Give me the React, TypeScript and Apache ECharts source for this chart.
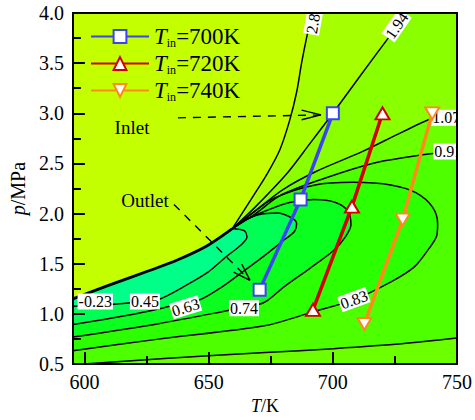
import React, { useEffect, useRef } from "react";
import * as echarts from "echarts";

const FONT = "Liberation Serif";

// axis ranges and ticks
const xRange = [595.3, 750];
const yRange = [0.5, 4.0];
const xMajorTicks = [600, 650, 700, 750];
const xMinorTicks = [625, 675, 725];
const yInterval = 0.5;

// operating lines (T/K, p/MPa)
const legendNames = ["Tin=700K", "Tin=720K", "Tin=740K"];
const line700 = [[700.0, 3.0], [687.0, 2.14], [670.5, 1.24]];
const line720 = [[720.0, 3.0], [707.7, 2.07], [692.0, 1.04]];
const line740 = [[740.0, 3.0], [728.1, 1.94], [712.7, 0.9]];

// contour lines (T/K, p/MPa)
const ridge = [[595.3, 1.15], [610.2, 1.29], [625.9, 1.43], [637.6, 1.54], [649.4, 1.68], [659.5, 1.85]];
const c280 = [[659.5, 1.85], [667.0, 2.14], [673.6, 2.4], [678.7, 2.64], [682.6, 2.93], [685.4, 3.21], [687.4, 3.5], [689.3, 3.74], [691.7, 4.0]];
const c194 = [[659.5, 1.85], [668.9, 2.07], [681.5, 2.4], [690.5, 2.69], [700.0, 3.0], [711.2, 3.38], [722.6, 3.76], [726.9, 3.9], [729.7, 4.0]];
const c107 = [[659.5, 1.85], [668.9, 2.03], [679.9, 2.24], [693.2, 2.42], [712.0, 2.62], [727.7, 2.81], [740.2, 2.95], [750.0, 2.99]];
const c091u = [[659.5, 1.85], [668.9, 2.0], [678.7, 2.18], [696.4, 2.35], [715.9, 2.5], [731.6, 2.57], [740.2, 2.6], [750.0, 2.62]];
const c091l = [[599.6, 0.5], [633.7, 0.558], [672.9, 0.615], [700.3, 0.654], [727.7, 0.702], [750.0, 0.759]];
const c083 = [[595.3, 0.634], [629.8, 0.749], [672.9, 0.884], [691.7, 1.018], [708.5, 1.143], [723.8, 1.325], [732.8, 1.469], [738.7, 1.651], [741.8, 1.777], [742.2, 1.9], [740.2, 2.063], [733.6, 2.207], [723.8, 2.284], [708.1, 2.312], [692.4, 2.284], [676.8, 2.159], [667.0, 1.996], [659.5, 1.85]];
const c074 = [[595.3, 0.769], [629.8, 0.903], [658.4, 1.037], [670.1, 1.095], [673.6, 1.133], [680.7, 1.277], [690.5, 1.45], [700.3, 1.632], [705.0, 1.766], [707.3, 1.891], [706.1, 2.025], [701.1, 2.111], [692.4, 2.14], [682.6, 2.111], [673.6, 2.034], [665.0, 1.939], [659.5, 1.85]];
const c063 = [[595.3, 0.894], [618.0, 0.989], [634.5, 1.076], [646.6, 1.143], [655.2, 1.267], [664.2, 1.43], [672.1, 1.574], [679.9, 1.728], [684.6, 1.825], [685.4, 1.9], [683.4, 1.958], [677.6, 2.006], [669.7, 1.987], [664.2, 1.929], [659.5, 1.85]];
const c045 = [[595.3, 1.076], [610.2, 1.095], [623.9, 1.124], [630.6, 1.152], [639.6, 1.267], [649.4, 1.411], [657.2, 1.574], [663.1, 1.689], [665.4, 1.766], [664.6, 1.825], [662.3, 1.843], [659.5, 1.85]];

// contour labels
const labelTexts = ["-0.23", "0.45", "0.63", "0.74", "0.83", "0.91", "1.07", "1.94", "2.8"];
const labelAt = [[604.3, 1.124], [624.3, 1.124], [640.7, 1.066], [664.2, 1.057], [708.5, 1.143], [746.5, 2.619], [745.7, 2.955], [725.7, 3.875], [692.0, 3.894]];
const labelAngle = [0, 0, 17, 0, 20, 0, 0, 55, 80];

// annotation arrows
const inletShaft = [[637.6, 2.955], [695.2, 2.984]];
const inletHead = [[687.4, 3.032], [695.2, 2.984], [687.4, 2.936]];
const outletShaft = [[636.0, 2.092], [666.6, 1.335]];
const outletHead = [[660.0, 1.417], [666.6, 1.335], [663.3, 1.498]];

const zoneColors = ["#c4ff00", "#a6ff00", "#8aff00", "#6cff00", "#4eff00", "#2cff00", "#0aff1e", "#00ff55", "#00ff88"];

export default function App() {
  const ref = useRef<HTMLDivElement>(null);
  useEffect(() => {
    if (!ref.current) return;
    const chart = echarts.init(ref.current, null, { renderer: "svg" });
    const [X0, X1] = xRange;
    const [Y0, Y1] = yRange;
    const ridgeRev = [...ridge].reverse();
    const zones = [
      [[X0, Y0], [X1, Y0], [X1, Y1], [X0, Y1]],
      [...c280, [X1, Y1], [X1, Y0], [X0, Y0], ...ridge],
      [...c194, [X1, Y1], [X1, Y0], [X0, Y0], ...ridge],
      [...c107, [X1, Y0], [X0, Y0], ...ridge],
      [...c091u, ...[...c091l].reverse(), [X0, Y0], ...ridge],
      [...c083, ...ridgeRev],
      [...c074, ...ridgeRev],
      [...c063, ...ridgeRev],
      [...c045, ...ridgeRev],
    ];
    const contourLines = [c280, c194, c107, c091u, c091l, c083, c074, c063, c045];
    const colors = ["#3a44f2", "#d40000", "#ff8a1a"];
    const datas = [line700, line720, line740];
    const symbols = ["rect", "triangle", "triangle"];
    const symSizes: any[] = [12, [14, 12], [14, 12]];
    const symRot = [0, 0, 180];

    const series: any[] = [
      {
        type: "custom",
        coordinateSystem: "cartesian2d",
        data: [[650, 2]],
        clip: true,
        silent: true,
        z: 1,
        renderItem: (params: any, api: any) => ({
          type: "group",
          children: zones.map((pts, i) => ({
            type: "polygon",
            shape: { points: pts.map((p) => api.coord(p)) },
            style: { fill: zoneColors[i], stroke: zoneColors[i], lineWidth: 0.5 },
          })),
        }),
      },
      {
        type: "line",
        data: ridge,
        symbol: "none",
        silent: true,
        z: 2,
        smooth: 0.3,
        lineStyle: { color: "#000", width: 2.8 },
      },
      ...contourLines.map((d) => ({
        type: "line",
        data: d,
        symbol: "none",
        silent: true,
        z: 2,
        smooth: 0.3,
        lineStyle: { color: "#000", width: 1.5 },
      })),
      {
        type: "custom",
        coordinateSystem: "cartesian2d",
        data: [[650, 2]],
        clip: true,
        silent: true,
        z: 3,
        renderItem: (params: any, api: any) => ({
          type: "group",
          children: labelTexts.map((t, i) => {
            const p = api.coord(labelAt[i]);
            return {
              type: "text",
              x: p[0],
              y: p[1],
              rotation: (labelAngle[i] * Math.PI) / 180,
              style: {
                text: t,
                x: 0,
                y: 0,
                align: "center",
                verticalAlign: "middle",
                fontSize: 16,
                fontFamily: FONT,
                fill: "#000",
                backgroundColor: "#fff",
                padding: [0, 1, 0, 1],
              },
            };
          }),
        }),
      },
      ...[inletShaft, outletShaft].map((d) => ({
        type: "line",
        data: d,
        symbol: "none",
        silent: true,
        z: 4,
        lineStyle: { color: "#000", width: 1.4, type: [8, 7] },
      })),
      ...[inletHead, outletHead].map((d) => ({
        type: "line",
        data: d,
        symbol: "none",
        silent: true,
        z: 4,
        lineStyle: { color: "#000", width: 1.4 },
      })),
      ...datas.map((d, i) => ({
        name: legendNames[i],
        type: "line",
        data: d,
        z: 5,
        symbol: symbols[i],
        symbolSize: symSizes[i],
        symbolRotate: symRot[i],
        showAllSymbol: true,
        color: colors[i],
        lineStyle: { color: colors[i], width: 3.5 },
        itemStyle: { color: "#fff", borderColor: colors[i], borderWidth: 2 },
      })),
    ];

    const axisLine = { show: true, lineStyle: { color: "#000", width: 2 } };
    chart.setOption({
      animation: false,
      grid: { left: 62, top: 13, right: 18, bottom: 42, containLabel: false },
      legend: {
        show: true,
        orient: "vertical",
        left: 90,
        top: 25,
        padding: 0,
        itemWidth: 58,
        itemHeight: 16,
        itemGap: 3,
        selectedMode: false,
        data: legendNames,
        formatter: (name: string) => `{t|T}{s|in}{n|${name.slice(3)}}`,
        textStyle: {
          fontFamily: FONT,
          fontSize: 23,
          color: "#000",
          padding: [0, 0, 0, 0],
          rich: {
            t: { fontFamily: FONT, fontSize: 23, fontStyle: "italic", color: "#000" },
            s: { fontFamily: FONT, fontSize: 12, color: "#000", padding: [13, 0, 0, 0] },
            n: { fontFamily: FONT, fontSize: 23, color: "#000" },
          },
        },
      },
      xAxis: [
        {
          type: "value",
          min: X0,
          max: X1,
          position: "bottom",
          z: 10,
          axisLine,
          splitLine: { show: false },
          axisTick: { show: true, inside: true, length: 12, customValues: xMajorTicks, lineStyle: { color: "#000", width: 2 } },
          axisLabel: { customValues: xMajorTicks, fontSize: 20, fontFamily: FONT, color: "#000", margin: 8 },
          name: "{i|T}/K",
          nameLocation: "middle",
          nameGap: 27,
          nameTextStyle: {
            fontSize: 18,
            fontFamily: FONT,
            color: "#000",
            rich: { i: { fontSize: 18, fontFamily: FONT, fontStyle: "italic", color: "#000" } },
          },
        },
        {
          type: "value",
          min: X0,
          max: X1,
          position: "bottom",
          z: 10,
          axisLine: { show: false },
          splitLine: { show: false },
          axisTick: { show: true, inside: true, length: 8, customValues: xMinorTicks, lineStyle: { color: "#000", width: 2 } },
          axisLabel: { show: false },
        },
        {
          type: "value",
          min: X0,
          max: X1,
          position: "top",
          z: 10,
          axisLine,
          splitLine: { show: false },
          axisTick: { show: false },
          axisLabel: { show: false },
        },
      ],
      yAxis: [
        {
          type: "value",
          min: Y0,
          max: Y1,
          interval: yInterval,
          position: "left",
          z: 10,
          axisLine,
          splitLine: { show: false },
          axisTick: { show: true, inside: true, length: 12, lineStyle: { color: "#000", width: 2 } },
          minorTick: { show: true, splitNumber: 2, length: 8, lineStyle: { color: "#000", width: 2 } },
          axisLabel: { fontSize: 20, fontFamily: FONT, color: "#000", margin: 9, formatter: (v: number) => v.toFixed(1) },
          name: "{i|p}/MPa",
          nameLocation: "middle",
          nameGap: 37,
          nameTextStyle: {
            fontSize: 20,
            fontFamily: FONT,
            color: "#000",
            rich: { i: { fontSize: 20, fontFamily: FONT, fontStyle: "italic", color: "#000" } },
          },
        },
        {
          type: "value",
          min: Y0,
          max: Y1,
          position: "right",
          z: 10,
          axisLine,
          splitLine: { show: false },
          axisTick: { show: false },
          axisLabel: { show: false },
        },
      ],
      graphic: [
        { type: "text", x: 132, y: 127, z: 20, style: { text: "Inlet", fontSize: 19, fontFamily: FONT, fill: "#000", align: "center", verticalAlign: "middle" } },
        { type: "text", x: 145, y: 200, z: 20, style: { text: "Outlet", fontSize: 19, fontFamily: FONT, fill: "#000", align: "center", verticalAlign: "middle" } },
      ],
      series,
    });
    return () => chart.dispose();
  }, []);
  return <div ref={ref} style={{ position: "absolute", left: 0, top: 0, width: 475, height: 420 }} />;
}
